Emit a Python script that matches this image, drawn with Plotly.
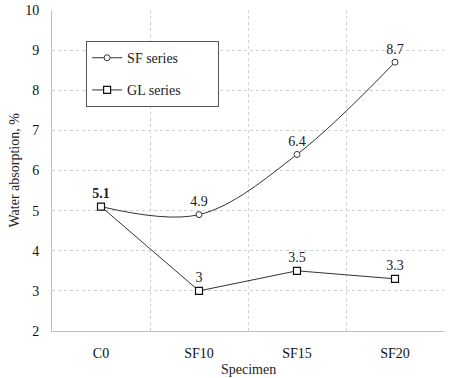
import plotly.graph_objects as go

categories = ["C0", "SF10", "SF15", "SF20"]
sf_values = [5.1, 4.9, 6.4, 8.7]
gl_values = [5.1, 3.0, 3.5, 3.3]
sf_labels = ["", "4.9", "6.4", "8.7"]
gl_labels = ["<b>5.1</b>", "3", "3.5", "3.3"]
y_ticks = [2, 3, 4, 5, 6, 7, 8, 9, 10]

FONT = "Liberation Serif"
PAD = "\u00a0" * 9

fig = go.Figure()
fig.add_trace(go.Scatter(
    x=categories, y=sf_values, name="SF series" + PAD, mode="lines+markers+text",
    line=dict(color="#333333", width=1, shape="spline", smoothing=1.0),
    marker=dict(symbol="circle", size=6, color="white", line=dict(color="#333333", width=1)),
    text=sf_labels, textposition="top center", textfont=dict(size=14, color="#222222", family=FONT),
    legendgroup="a",
))
fig.add_trace(go.Scatter(
    x=categories, y=gl_values, name="GL series" + PAD, mode="lines+markers+text",
    line=dict(color="#333333", width=1),
    marker=dict(symbol="square", size=7, color="white", line=dict(color="#111111", width=1.2)),
    text=gl_labels, textposition="top center", textfont=dict(size=14, color="#222222", family=FONT),
    legendgroup="b",
))

fig.update_layout(
    width=454, height=378,
    margin=dict(l=52, r=10, t=10, b=47),
    paper_bgcolor="white", plot_bgcolor="white",
    font=dict(family=FONT, color="#222222", size=14),
    showlegend=True,
    legend=dict(
        x=0.087, y=0.903, xanchor="left", yanchor="top",
        bordercolor="#555555", borderwidth=1, bgcolor="white",
        font=dict(size=14, family=FONT), tracegroupgap=11,
        traceorder="grouped",
    ),
    annotations=[
        dict(text="Specimen", xref="paper", yref="paper", x=0.5, y=0,
             yshift=-38, xanchor="center", yanchor="middle", showarrow=False,
             font=dict(size=14, family=FONT, color="#222222")),
        dict(text="Water absorption, %", xref="paper", yref="paper", x=0, y=0.5,
             xshift=-38, xanchor="center", yanchor="middle", textangle=-90, showarrow=False,
             font=dict(size=14, family=FONT, color="#222222")),
    ],
)
fig.update_xaxes(
    type="category", categoryorder="array", categoryarray=categories,
    range=[-0.5, 3.5], tickson="boundaries", ticks="", automargin=False,
    showgrid=True, gridcolor="#d0d0d0", griddash="dot", gridwidth=1,
    showline=True, linecolor="#bfbfbf", linewidth=1,
    tickfont=dict(size=14, family=FONT, color="#111111"), ticklabelstandoff=9,
)
fig.update_yaxes(
    range=[2, 10], tickvals=y_ticks, ticks="", automargin=False,
    showgrid=True, gridcolor="#d0d0d0", griddash="dot", gridwidth=1,
    showline=True, linecolor="#bfbfbf", linewidth=1, zeroline=False,
    tickfont=dict(size=14, family=FONT, color="#111111"), ticklabelstandoff=9,
)

fig.write_html("out.html", config={"displayModeBar": False},
               post_script="document.body.style.margin='0';")
